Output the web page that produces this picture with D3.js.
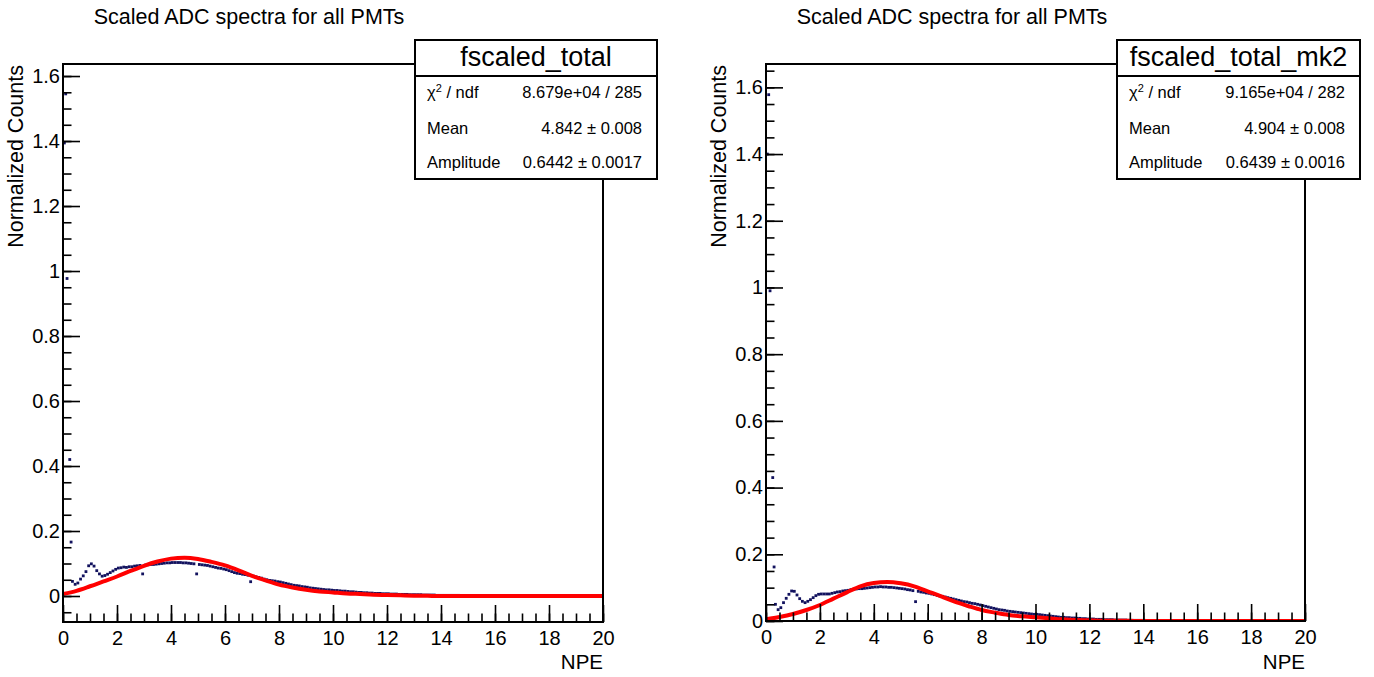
<!DOCTYPE html>
<html>
<head>
<meta charset="utf-8">
<script src="https://cdn.jsdelivr.net/npm/d3@7"></script>
<style>
  html, body { margin: 0; padding: 0; background: #fff; }
  svg text { font-family: "Liberation Sans", Arial, Helvetica, sans-serif; fill: #000; }
</style>
</head>
<body>
<svg id="chart" width="1374" height="677"></svg>
<script>
// --- data ---

const binWidth = 0.1;
const firstCenter = 0.35;   // first regular bin centre

const yMajorTicks = [0, 0.2, 0.4, 0.6, 0.8, 1, 1.2, 1.4, 1.6];
const xMajorTicks = [0, 2, 4, 6, 8, 10, 12, 14, 16, 18, 20];

// low-NPE spike bins
const spikeNpeLeft = [0.05, 0.1, 0.15, 0.25, 0.3];
const spikeCountsLeft = [1.394, 1.545, 0.977, 0.42, 0.166];
const spikeNpeRight = [0.05, 0.1, 0.15, 0.25, 0.3];
const spikeCountsRight = [1.40, 1.578, 0.99, 0.43, 0.162];

// regular bins from 0.35 upward
const countsLeft = [
  0.045,0.036,0.040,0.052,0.062,0.075,0.093,
  0.099,0.092,0.078,0.068,0.061,0.063,0.067,0.072,0.077,0.082,
  0.086,0.087,0.089,0.088,0.090,0.090,0.092,0.093,0.094,0.068,
  0.095,0.096,0.097,0.097,0.098,0.099,0.100,0.101,0.102,0.102,
  0.103,0.103,0.103,0.103,0.102,0.102,0.101,0.100,0.099,0.068,
  0.097,0.096,0.095,0.094,0.092,0.090,0.088,0.086,0.085,0.083,
  0.081,0.078,0.075,0.072,0.070,0.069,0.067,0.066,0.064,0.044,
  0.061,0.059,0.057,0.055,0.052,0.050,0.048,0.047,0.046,0.044,
  0.043,0.041,0.039,0.037,0.035,0.033,0.032,0.031,0.029,0.028,
  0.027,0.025,0.024,0.023,0.022,0.021,0.020,0.019,0.019,0.018,
  0.017,0.017,0.016,0.015,0.015,0.014,0.013,0.013,0.012,0.011,
  0.011,0.010,0.010,0.009,0.009,0.008,0.008,0.008,0.007,0.007,
  0.007,0.006,0.006,0.006,0.005,0.005,0.005,0.005,0.004,0.004,
  0.004,0.004,0.004,0.003,0.003,0.003,0.003,0.003,0.002,0.002,
  0.002,0.002,0.002,0.002,0.002,0.002,0.002,0.001,0.001,0.001,
  0.001,0.001,0.001,0.001,0.001,0.001,0.001,0.001,0.001,0.001,
  0.001,0.001,0.001,0.001,0.001,0.001,0,0.001,0.001,0,
  0.001,0,0.001,0,0.001,0,0,0.001,0,0
];

const countsRight = [
  0.050,0.034,0.040,0.055,0.068,0.080,0.090,
  0.089,0.078,0.067,0.059,0.055,0.059,0.064,0.070,0.076,0.080,
  0.081,0.081,0.081,0.081,0.083,0.085,0.087,0.088,0.090,0.091,
  0.092,0.094,0.095,0.096,0.097,0.097,0.098,0.099,0.100,0.101,
  0.102,0.102,0.103,0.102,0.102,0.101,0.101,0.100,0.099,0.098,
  0.097,0.096,0.094,0.093,0.091,0.058,0.089,0.087,0.086,0.084,
  0.083,0.081,0.079,0.077,0.075,0.074,0.072,0.070,0.068,0.066,
  0.064,0.062,0.060,0.058,0.057,0.055,0.053,0.052,0.050,0.048,
  0.046,0.044,0.042,0.040,0.038,0.036,0.034,0.033,0.032,0.030,
  0.029,0.028,0.027,0.026,0.025,0.024,0.023,0.022,0.021,0.020,
  0.020,0.019,0.018,0.017,0.016,0.015,0.014,0.013,0.012,0.011,
  0.011,0.010,0.010,0.009,0.009,0.008,0.008,0.007,0.007,0.006,
  0.006,0.006,0.005,0.005,0.005,0.004,0.004,0.004,0.004,0.003,
  0.003,0.003,0.003,0.003,0.002,0.002,0.002,0.002,0.002,0.002,
  0.002,0.001,0.001,0.001,0.001,0.001,0.001,0.001,0.001,0.001,
  0.001,0.001,0.001,0.001,0.001,0,0.001,0.001,0,0.001,
  0.001,0,0.001,0,0,0.001,0,0,0.001,0
];

// fitted function
const fitNpe = [0,0.5,1,1.5,2,2.5,3,3.5,4,4.5,5,5.5,6,6.5,7,7.5,8,8.5,9,9.5,10,10.5,11,11.5,12,12.5,13,13.5,14,20];
const fitLeft = [0.006,0.016,0.030,0.045,0.060,0.077,0.093,0.106,0.115,0.118,0.114,0.105,0.094,0.079,0.062,0.048,0.035,0.026,0.019,0.014,0.011,0.008,0.006,0.004,0.003,0.002,0.001,0.0005,0,0];
const fitRight = [0.005,0.012,0.021,0.033,0.048,0.067,0.086,0.104,0.114,0.117,0.113,0.104,0.089,0.074,0.058,0.045,0.033,0.025,0.018,0.014,0.011,0.008,0.005,0.003,0.002,0.001,0.001,0.0005,0,0];

const statLabels = ["Mean", "Amplitude"];
const statsLeft = ["8.679e+04 / 285", "4.842 \u00b1 0.008", "0.6442 \u00b1 0.0017"];
const statsRight = ["9.165e+04 / 282", "4.904 \u00b1 0.008", "0.6439 \u00b1 0.0016"];

const panels = [
  { id: "L", x0: 63, x1: 603, yTop: 64, yBot: 622, yDomain: [-0.08, 1.637],
    spikeNpe: spikeNpeLeft, spikeCounts: spikeCountsLeft, counts: countsLeft, fit: fitLeft,
    titleX: 249, statName: "fscaled_total", stats: statsLeft,
    box: { x: 415, y: 40, w: 242, h: 139 } },
  { id: "R", x0: 766, x1: 1305, yTop: 64, yBot: 621, yDomain: [0, 1.67],
    spikeNpe: spikeNpeRight, spikeCounts: spikeCountsRight, counts: countsRight, fit: fitRight,
    titleX: 952, statName: "fscaled_total_mk2", stats: statsRight,
    box: { x: 1117, y: 40, w: 243, h: 139 } }
];

const svg = d3.select("#chart");
svg.append("rect").attr("width", 1374).attr("height", 677).attr("fill", "#fff");

panels.forEach(drawPanel);

function drawPanel(p) {
    const x = d3.scaleLinear().domain([0, 20]).range([p.x0, p.x1]);
    const y = d3.scaleLinear().domain(p.yDomain).range([p.yBot, p.yTop]);
    const g = svg.append("g");

    // title
    g.append("text")
        .attr("x", p.titleX).attr("y", 24)
        .attr("text-anchor", "middle")
        .style("font-size", "21.5px")
        .text("Scaled ADC spectra for all PMTs");

    // clip to frame
    g.append("clipPath").attr("id", "clip" + p.id)
        .append("rect")
        .attr("x", p.x0).attr("y", p.yTop)
        .attr("width", p.x1 - p.x0).attr("height", p.yBot - p.yTop);

    const plot = g.append("g").attr("clip-path", `url(#clip${p.id})`);

    // histogram markers
    const pts = p.spikeNpe.map((n, i) => ({ npe: n, v: p.spikeCounts[i] }))
        .concat(p.counts.map((v, i) => ({ npe: firstCenter + i * binWidth, v })));

    plot.selectAll("rect.mk").data(pts).enter().append("rect")
        .attr("class", "mk")
        .attr("x", d => x(d.npe) - 1.4)
        .attr("y", d => y(d.v) - 1.4)
        .attr("width", 2.8).attr("height", 2.8)
        .attr("fill", "#12125e");

    // fit curve
    const fitData = fitNpe.map((n, i) => ({ npe: n, v: p.fit[i] }));
    plot.append("path")
        .datum(fitData)
        .attr("fill", "none")
        .attr("stroke", "#ff0000")
        .attr("stroke-width", 4)
        .attr("d", d3.line().x(d => x(d.npe)).y(d => y(d.v)).curve(d3.curveMonotoneX));

    // y axis, ticks inward
    const yMinor = [];
    for (let k = Math.ceil(p.yDomain[0] / 0.05); k * 0.05 <= p.yDomain[1] + 1e-9; k++) yMinor.push(+(k * 0.05).toFixed(2));

    g.append("g").attr("transform", `translate(${p.x0},0)`)
        .call(d3.axisLeft(y).tickValues(yMinor).tickSize(-8.5).tickFormat(""))
        .call(a => a.select(".domain").remove());
    g.append("g").attr("transform", `translate(${p.x0},0)`)
        .call(d3.axisLeft(y).tickValues(yMajorTicks).tickSize(-17).tickPadding(3).tickFormat(d3.format("")))
        .call(a => a.select(".domain").remove())
        .call(a => a.selectAll("text").style("font-size", "20px").attr("fill", "#000"));

    // x axis, ticks upward
    const xMinor = [];
    for (let k = 0; k <= 40; k++) xMinor.push(k * 0.5);
    g.append("g").attr("transform", `translate(0,${p.yBot})`)
        .call(d3.axisBottom(x).tickValues(xMinor).tickSize(-8.5).tickFormat(""))
        .call(a => a.select(".domain").remove());
    g.append("g").attr("transform", `translate(0,${p.yBot})`)
        .call(d3.axisBottom(x).tickValues(xMajorTicks).tickSize(-17).tickPadding(8.5).tickFormat(d3.format("")))
        .call(a => a.select(".domain").remove())
        .call(a => a.selectAll("text").style("font-size", "20px").attr("fill", "#000"));

    g.selectAll(".tick line").attr("stroke", "#000").attr("stroke-width", 1.6);

    // frame
    g.append("rect")
        .attr("x", p.x0).attr("y", p.yTop)
        .attr("width", p.x1 - p.x0).attr("height", p.yBot - p.yTop)
        .attr("fill", "none").attr("stroke", "#000").attr("stroke-width", 2);

    // axis titles
    g.append("text")
        .attr("x", p.x1).attr("y", 669)
        .attr("text-anchor", "end")
        .style("font-size", "20.5px")
        .text("NPE");

    g.append("text")
        .attr("transform", `translate(${p.x0 - 40},${p.yTop + 1}) rotate(-90)`)
        .attr("text-anchor", "end")
        .style("font-size", "21.5px")
        .text("Normalized Counts");

    // stats box
    const b = p.box;
    const box = g.append("g");
    box.append("rect")
        .attr("x", b.x).attr("y", b.y).attr("width", b.w).attr("height", b.h)
        .attr("fill", "#fff").attr("stroke", "#000").attr("stroke-width", 2);
    box.append("line")
        .attr("x1", b.x).attr("x2", b.x + b.w)
        .attr("y1", b.y + 36).attr("y2", b.y + 36)
        .attr("stroke", "#000").attr("stroke-width", 2);
    box.append("text")
        .attr("x", b.x + b.w / 2).attr("y", b.y + 26)
        .attr("text-anchor", "middle")
        .style("font-size", "27px")
        .text(p.statName);

    const rowY = [b.y + 58, b.y + 94, b.y + 128];
    const lx = b.x + 12, vx = b.x + b.w - 15;

    const chi = box.append("text").attr("x", lx).attr("y", rowY[0]).style("font-size", "16.5px");
    chi.append("tspan").text("\u03c7");
    chi.append("tspan").attr("dy", -6).style("font-size", "11px").text("2");
    chi.append("tspan").attr("dy", 6).text(" / ndf");

    statLabels.forEach((s, i) => {
        box.append("text").attr("x", lx).attr("y", rowY[i + 1])
            .style("font-size", "16.5px").text(s);
    });
    p.stats.forEach((s, i) => {
        box.append("text").attr("x", vx).attr("y", rowY[i])
            .attr("text-anchor", "end")
            .style("font-size", "16.5px").text(s);
    });
}
</script>
</body>
</html>
